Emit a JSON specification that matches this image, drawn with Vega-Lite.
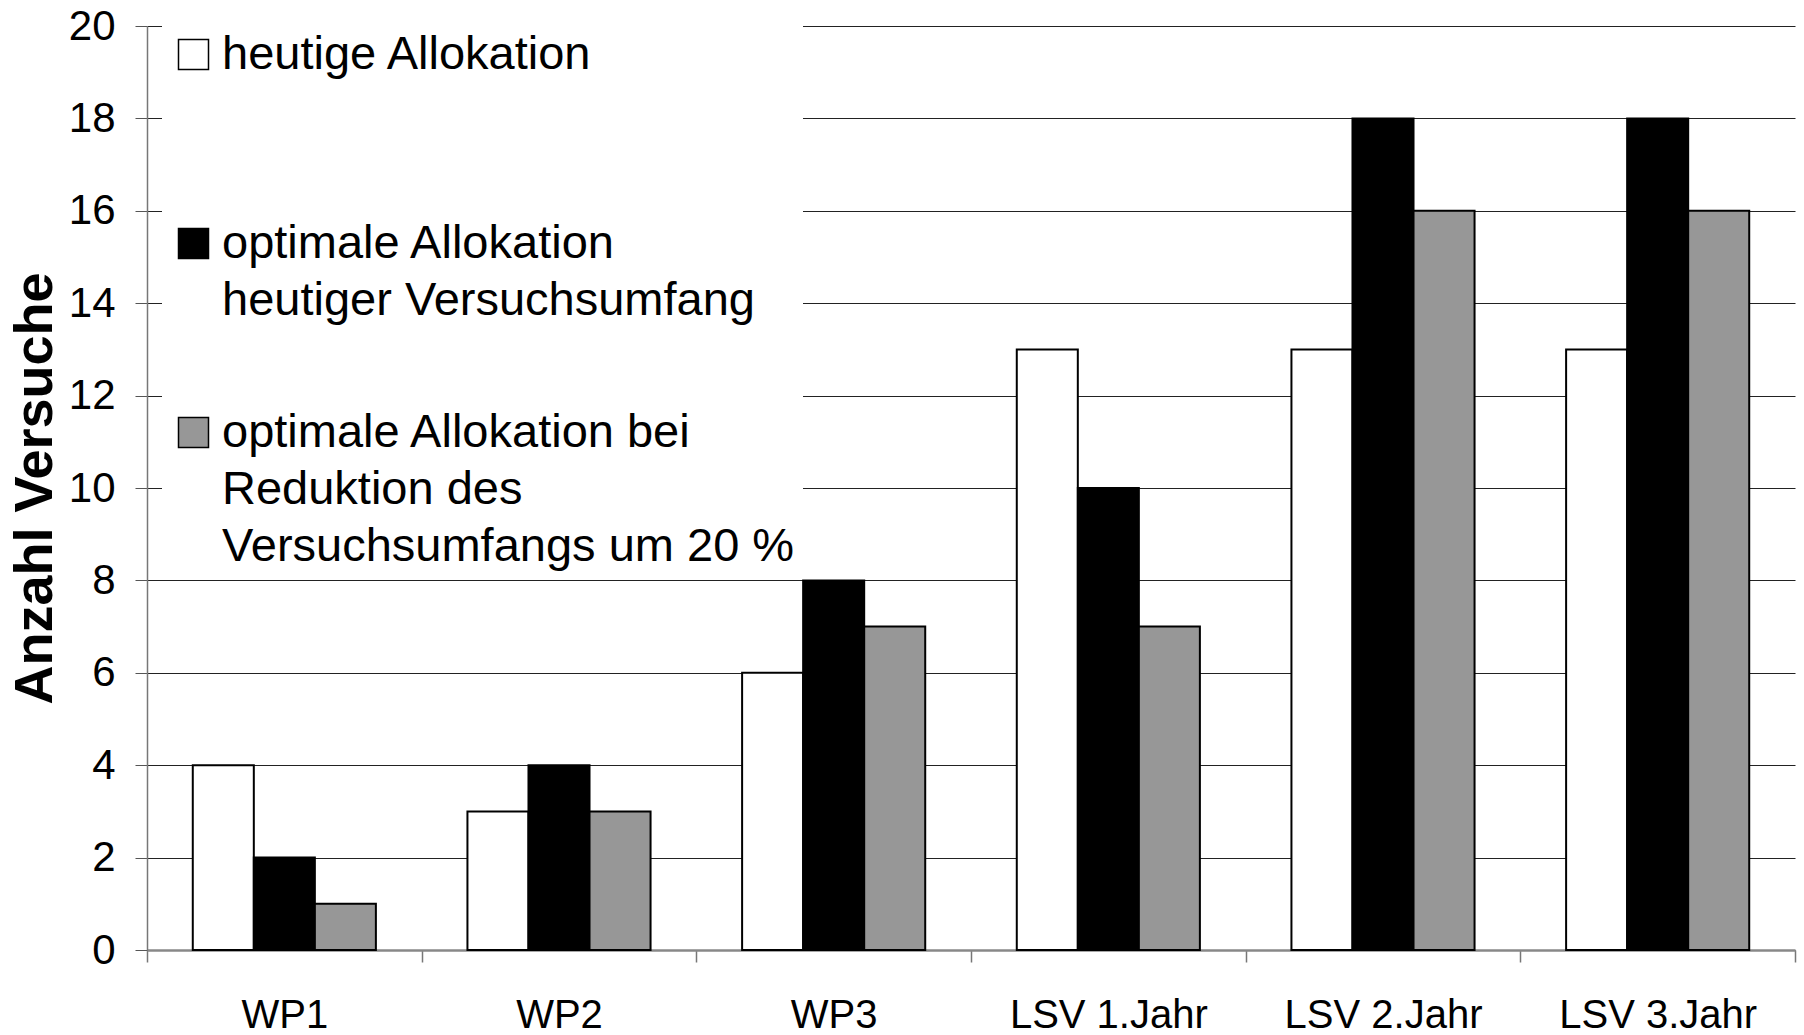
{
  "$schema": "https://vega.github.io/schema/vega-lite/v6.json",
  "width": 1648,
  "height": 924,
  "autosize": {"type": "none"},
  "padding": {"left": 147, "top": 26, "right": 9, "bottom": 85},
  "background": "white",
  "data": {
    "values": [
      {"gruppe": "WP1", "serie": "heutige Allokation", "anzahl": 4},
      {"gruppe": "WP1", "serie": "optimale Allokation|heutiger Versuchsumfang", "anzahl": 2},
      {"gruppe": "WP1", "serie": "optimale Allokation bei|Reduktion des|Versuchsumfangs um 20 %", "anzahl": 1},
      {"gruppe": "WP2", "serie": "heutige Allokation", "anzahl": 3},
      {"gruppe": "WP2", "serie": "optimale Allokation|heutiger Versuchsumfang", "anzahl": 4},
      {"gruppe": "WP2", "serie": "optimale Allokation bei|Reduktion des|Versuchsumfangs um 20 %", "anzahl": 3},
      {"gruppe": "WP3", "serie": "heutige Allokation", "anzahl": 6},
      {"gruppe": "WP3", "serie": "optimale Allokation|heutiger Versuchsumfang", "anzahl": 8},
      {"gruppe": "WP3", "serie": "optimale Allokation bei|Reduktion des|Versuchsumfangs um 20 %", "anzahl": 7},
      {"gruppe": "LSV 1.Jahr", "serie": "heutige Allokation", "anzahl": 13},
      {"gruppe": "LSV 1.Jahr", "serie": "optimale Allokation|heutiger Versuchsumfang", "anzahl": 10},
      {"gruppe": "LSV 1.Jahr", "serie": "optimale Allokation bei|Reduktion des|Versuchsumfangs um 20 %", "anzahl": 7},
      {"gruppe": "LSV 2.Jahr", "serie": "heutige Allokation", "anzahl": 13},
      {"gruppe": "LSV 2.Jahr", "serie": "optimale Allokation|heutiger Versuchsumfang", "anzahl": 18},
      {"gruppe": "LSV 2.Jahr", "serie": "optimale Allokation bei|Reduktion des|Versuchsumfangs um 20 %", "anzahl": 16},
      {"gruppe": "LSV 3.Jahr", "serie": "heutige Allokation", "anzahl": 13},
      {"gruppe": "LSV 3.Jahr", "serie": "optimale Allokation|heutiger Versuchsumfang", "anzahl": 18},
      {"gruppe": "LSV 3.Jahr", "serie": "optimale Allokation bei|Reduktion des|Versuchsumfangs um 20 %", "anzahl": 16}
    ]
  },
  "mark": {"type": "bar", "stroke": "black", "strokeWidth": 2},
  "encoding": {
    "x": {
      "field": "gruppe",
      "type": "nominal",
      "sort": ["WP1", "WP2", "WP3", "LSV 1.Jahr", "LSV 2.Jahr", "LSV 3.Jahr"],
      "scale": {"paddingInner": 0, "paddingOuter": 0},
      "axis": {
        "title": null,
        "labelAngle": 0,
        "labelFont": "Liberation Sans",
        "labelFontSize": 40,
        "labelColor": "black",
        "labelPadding": 33,
        "labelLimit": 0,
        "tickBand": "extent",
        "tickSize": 12,
        "tickColor": "#777",
        "tickWidth": 1.5,
        "domainColor": "#888",
        "domainWidth": 2.5,
        "grid": false
      }
    },
    "xOffset": {
      "field": "serie",
      "type": "nominal",
      "sort": ["heutige Allokation", "optimale Allokation|heutiger Versuchsumfang", "optimale Allokation bei|Reduktion des|Versuchsumfangs um 20 %"],
      "scale": {"paddingInner": 0, "paddingOuter": 0.75}
    },
    "y": {
      "field": "anzahl",
      "type": "quantitative",
      "scale": {"domain": [0, 20], "nice": false},
      "axis": {
        "title": "Anzahl Versuche",
        "titleFont": "Liberation Sans",
        "titleFontSize": 54,
        "titleFontWeight": "bold",
        "titleColor": "black",
        "titlePadding": 6,
        "values": [0, 2, 4, 6, 8, 10, 12, 14, 16, 18, 20],
        "labelFont": "Liberation Sans",
        "labelFontSize": 42,
        "labelColor": "black",
        "labelPadding": 20,
        "tickSize": 12,
        "tickColor": "#555",
        "tickWidth": 1,
        "domainColor": "#777",
        "domainWidth": 1.5,
        "gridColor": "#222",
        "gridWidth": 1.2
      }
    },
    "color": {
      "field": "serie",
      "type": "nominal",
      "sort": ["heutige Allokation", "optimale Allokation|heutiger Versuchsumfang", "optimale Allokation bei|Reduktion des|Versuchsumfangs um 20 %"],
      "scale": {"range": ["white", "black", "#979797"]},
      "legend": {
        "title": null,
        "orient": "none",
        "legendX": 15,
        "legendY": -3,
        "padding": 8,
        "fillColor": "white",
        "strokeColor": null,
        "symbolType": "square",
        "symbolSize": 900,
        "symbolStrokeColor": "black",
        "symbolStrokeWidth": 1.5,
        "symbolOpacity": 1,
        "labelExpr": "split(datum.label, '|')",
        "labelFont": "Liberation Sans",
        "labelFontSize": 47,
        "labelColor": "black",
        "labelLimit": 0,
        "labelOffset": 5,
        "labelBaseline": "middle",
        "gridAlign": "all",
        "rowPadding": 27
      }
    }
  },
  "config": {
    "view": {"stroke": null},
    "style": {"guide-label": {"lineHeight": 57}}
  }
}
